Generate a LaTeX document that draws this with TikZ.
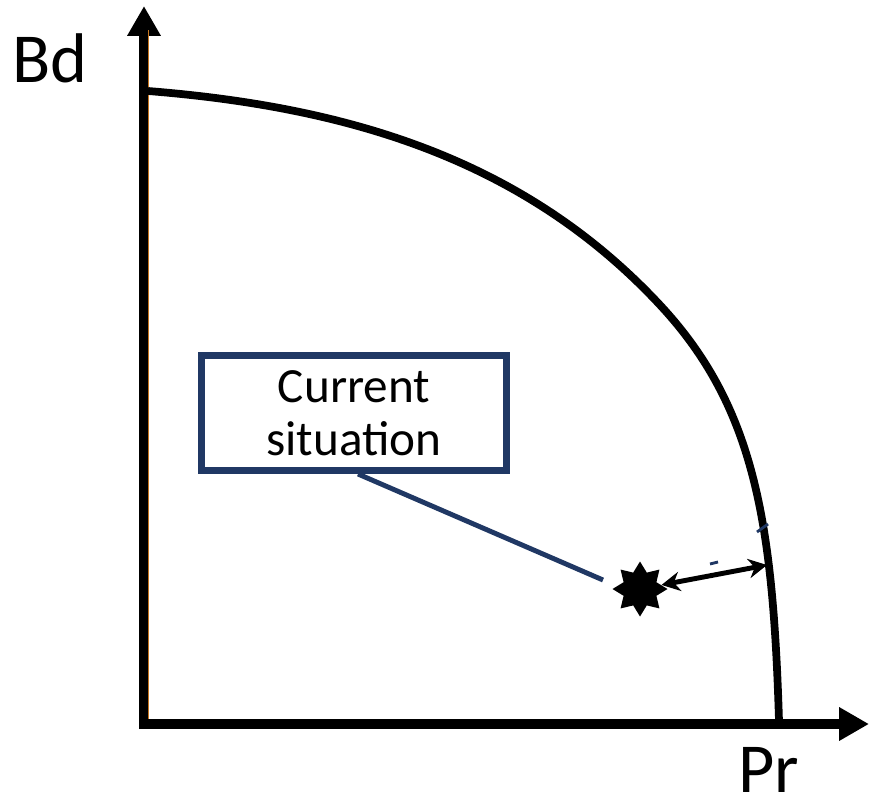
\documentclass[tikz,border=0pt]{standalone}
\usepackage{fontspec}
\setmainfont{Carlito}
\usetikzlibrary{arrows.meta,shapes.geometric}
\definecolor{navy}{HTML}{203864}
\definecolor{axorange}{HTML}{C8761E}
\begin{document}
\begin{tikzpicture}[x=0.02cm,y=-0.02cm,
  axis/.style={line width=5.4pt,-{Triangle[length=17pt,width=18pt]}},
  frontier/.style={line width=4.4pt,line join=round},
  axlabel/.style={font=\fontsize{40}{44}\selectfont,inner sep=0pt,anchor=base},
  callout/.style={draw=navy,line width=4pt,minimum width=6.1cm,minimum height=2.3cm,
    align=center,font=\fontsize{28}{30}\selectfont,inner sep=0pt},
  leader/.style={navy,line width=2.8pt},
  gap/.style={line width=2.8pt,{Stealth[length=10.5pt,width=11pt]}-{Stealth[length=10.5pt,width=11pt]}},
  speck/.style={navy,line width=1.6pt}]
\useasboundingbox (0,0) rectangle (869,805);
% axes
\coordinate (O) at (140,724);
\coordinate (ytop) at (144,6);
\coordinate (xend) at (869,724);
\draw[axis] (144,729) -- (ytop);
\draw[axis] (O) -- (xend);
\draw[axorange,line width=0.6pt] (148.5,30) -- (148.5,719);
% labels
\node[axlabel] (bd) at (50,82) {Bd};
\node[axlabel] (pr) at (769,792) {Pr};
% frontier
\coordinate (f0) at (148,91);
\coordinate (fm) at (660,305);
\coordinate (f1) at (779,721);
\draw[frontier] (f0) .. controls (348,107) and (524,159) .. (fm)
                     .. controls (755,407) and (773,523) .. (f1);
\coordinate (front) at (767,565);
% current situation
\node[star,star points=8,star point ratio=1.55,fill=black,minimum size=1.1cm,inner sep=0pt] (cur) at (640,589) {};
\draw[gap] (cur) -- (front);
\node[callout] (box) at (354,413) {Current\\situation};
\coordinate (lend) at (603,580);
\draw[leader] ([xshift=0.08cm]box.south) -- (lend);
% small specks
\draw[speck] (757,532) -- (768,524);
\draw[speck] (710,564) -- (718,562);
\end{tikzpicture}
\end{document}
